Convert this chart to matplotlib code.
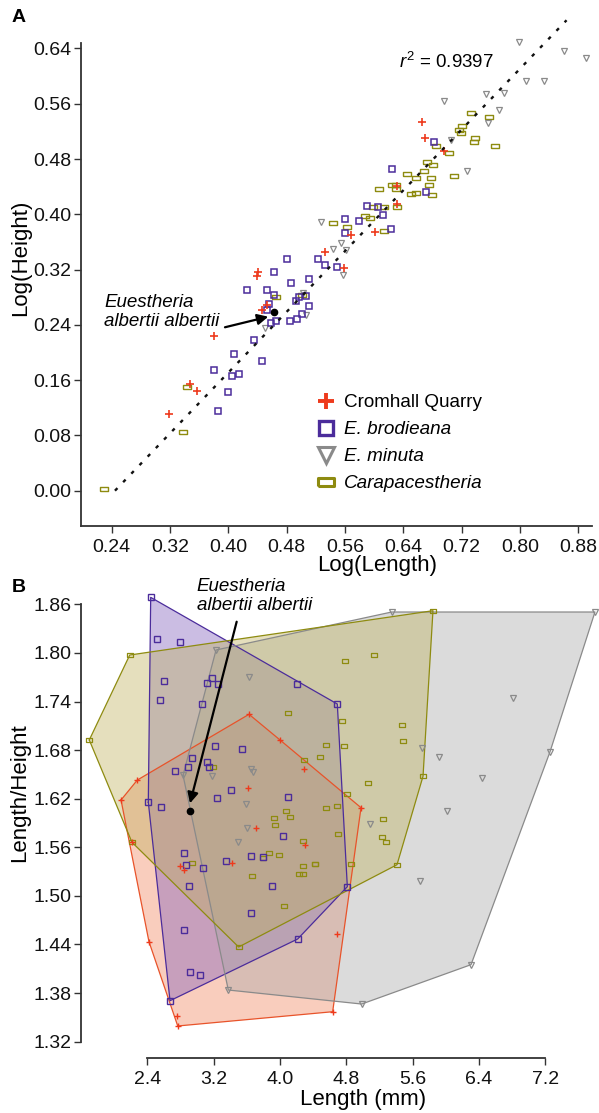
import numpy as np
import matplotlib
matplotlib.use("Agg")
import matplotlib.pyplot as plt
from matplotlib.lines import Line2D

plt.rcParams['font.family'] = ['Liberation Sans', 'DejaVu Sans']
plt.rcParams['mathtext.fontset'] = 'custom'
plt.rcParams['mathtext.rm'] = 'Liberation Sans'
plt.rcParams['mathtext.it'] = 'Liberation Sans:italic'

# ---------------- Panel A : Log(Length) vs Log(Height) ----------------
crom_logL = [0.666, 0.670, 0.696, 0.632, 0.631, 0.568, 0.601, 0.533, 0.559, 0.441,
             0.440, 0.446, 0.453, 0.381, 0.347, 0.357, 0.318]
crom_logH = [0.534, 0.510, 0.492, 0.441, 0.415, 0.370, 0.374, 0.346, 0.323, 0.316,
             0.310, 0.2615, 0.269, 0.224, 0.154, 0.144, 0.111]

brod_logL = [0.481, 0.462, 0.486, 0.426, 0.453, 0.462, 0.456, 0.453, 0.523, 0.533,
             0.549, 0.510, 0.493, 0.497, 0.507, 0.511, 0.501, 0.494, 0.485, 0.466,
             0.459, 0.560, 0.560, 0.612, 0.623, 0.590, 0.579, 0.625, 0.682, 0.671,
             0.606, 0.435, 0.408, 0.446, 0.381, 0.405, 0.414, 0.400, 0.386]
brod_logH = [0.335, 0.317, 0.301, 0.291, 0.290, 0.283, 0.270, 0.262, 0.336, 0.326,
             0.324, 0.307, 0.274, 0.280, 0.282, 0.267, 0.255, 0.248, 0.246, 0.246,
             0.242, 0.393, 0.3725, 0.3985, 0.378, 0.412, 0.391, 0.465, 0.504, 0.432,
             0.411, 0.218, 0.198, 0.188, 0.174, 0.1655, 0.169, 0.143, 0.116]

minu_logL = [0.799, 0.860, 0.891, 0.808, 0.833, 0.696, 0.754, 0.778, 0.772, 0.756,
             0.705, 0.727, 0.527, 0.543, 0.554, 0.562, 0.558, 0.502, 0.507, 0.450]
minu_logH = [0.650, 0.637, 0.626, 0.593, 0.593, 0.564, 0.574, 0.575, 0.551, 0.532,
             0.507, 0.462, 0.389, 0.350, 0.358, 0.348, 0.312, 0.286, 0.254, 0.236]

cara_logL = [0.229, 0.338, 0.343, 0.466, 0.501, 0.543, 0.563, 0.587, 0.594, 0.599,
             0.614, 0.613, 0.607, 0.624, 0.630, 0.630, 0.632, 0.733, 0.757, 0.721,
             0.716, 0.719, 0.738, 0.737, 0.766, 0.685, 0.703, 0.672, 0.681, 0.669,
             0.710, 0.645, 0.678, 0.657, 0.675, 0.651, 0.657, 0.679]
cara_logH = [0.0025, 0.0845, 0.150, 0.280, 0.283, 0.387, 0.381, 0.3975, 0.394, 0.410,
             0.411, 0.376, 0.436, 0.443, 0.443, 0.436, 0.411, 0.546, 0.541, 0.528,
             0.522, 0.518, 0.511, 0.504, 0.499, 0.499, 0.489, 0.475, 0.471, 0.463,
             0.456, 0.459, 0.453, 0.452, 0.442, 0.429, 0.431, 0.4275]

alb_logL, alb_logH = 0.463, 0.259
fit_slope, fit_intercept = 1.099, -0.2687
fit_x_range = [0.2445, 0.864]
r2 = 0.9397

# ---------------- Panel B : Length vs Length/Height ----------------
crom_len = [3.627, 4.001, 4.978, 4.636, 2.767, 2.755, 2.420, 2.219, 2.083, 2.279,
            4.290, 3.611, 3.715, 4.302, 3.418, 2.798, 2.843, 4.685]
crom_ratio = [1.7242, 1.6925, 1.6089, 1.357, 1.3394, 1.352, 1.4435, 1.566, 1.6184, 1.643,
              1.6567, 1.6328, 1.5838, 1.5625, 1.5406, 1.5369, 1.5316, 1.4526]

brod_len = [2.441, 4.692, 4.813, 4.214, 2.674, 2.412, 4.202, 2.521, 2.794, 2.605,
            2.553, 3.124, 3.184, 3.253, 3.060, 3.220, 3.546, 2.939, 2.731, 2.887,
            3.117, 3.148, 2.569, 4.101, 3.413, 3.244, 4.041, 2.843, 2.867, 3.072,
            3.346, 3.647, 3.799, 3.904, 2.899, 3.647, 2.839, 2.911, 3.036]
brod_ratio = [1.8686, 1.7369, 1.5114, 1.4468, 1.3706, 1.6156, 1.7616, 1.8168, 1.8138, 1.7657,
              1.7419, 1.7625, 1.7686, 1.7616, 1.7366, 1.6854, 1.6814, 1.6699, 1.6538, 1.6588,
              1.6653, 1.6595, 1.6099, 1.6215, 1.6306, 1.6207, 1.5740, 1.5526, 1.5385, 1.5348,
              1.5427, 1.5496, 1.5480, 1.5126, 1.5119, 1.4785, 1.4575, 1.4057, 1.4027]

minu_len = [7.800, 5.348, 3.229, 2.831, 3.377, 4.986, 6.305, 7.258, 6.815, 5.922,
            5.714, 6.441, 6.015, 5.083, 5.689, 3.627, 3.651, 3.671, 3.184, 3.587,
            3.599, 3.494]
minu_ratio = [1.8505, 1.8505, 1.8036, 1.6489, 1.3838, 1.3665, 1.4151, 1.678, 1.744, 1.6719,
              1.683, 1.6459, 1.6052, 1.5891, 1.5188, 1.7706, 1.6563, 1.6533, 1.648, 1.6138,
              1.5842, 1.5669]

cara_len = [5.846, 5.726, 5.412, 3.502, 2.215, 1.700, 2.188, 4.788, 5.138, 5.469,
            5.488, 4.749, 4.776, 4.552, 4.487, 4.290, 5.062, 4.805, 4.552, 4.685,
            5.247, 5.227, 5.283, 4.704, 4.275, 4.423, 4.275, 4.853, 4.275, 4.101,
            3.189, 4.069, 3.928, 4.121, 3.944, 3.872, 3.989, 3.799, 2.936, 3.663,
            4.427, 4.230, 4.053]
cara_ratio = [1.8521, 1.6477, 1.5385, 1.4369, 1.5662, 1.6925, 1.7974, 1.7896, 1.7974, 1.7114,
              1.6916, 1.7163, 1.6847, 1.6867, 1.6715, 1.6681, 1.6398, 1.6254, 1.6085, 1.6114,
              1.5946, 1.5727, 1.5669, 1.5764, 1.5681, 1.5398, 1.5369, 1.5398, 1.5267, 1.7262,
              1.6595, 1.6048, 1.5965, 1.5978, 1.5875, 1.5526, 1.5509, 1.5468, 1.5406, 1.5246,
              1.5398, 1.5267, 1.4875]

alb_len, alb_ratio = 2.915, 1.6048

# colours
RED, RED_EDGE, RED_FILL = '#ee3a1c', '#e8532a', '#f2825a'
PUR, PUR_FILL = '#4b2c9b', '#7d5cbb'
GRY, GRY_FILL = '#8a8a8a', '#a7a7a7'
OLV, OLV_FILL = '#8e8b10', '#beb15c'
AXC = '#333333'

RECT = [(-1, -0.45), (1, -0.45), (1, 0.45), (-1, 0.45), (-1, -0.45)]


def convex_hull(xs, ys):
    pts = sorted(set(zip(xs, ys)))

    def cross(o, a, b):
        return (a[0] - o[0]) * (b[1] - o[1]) - (a[1] - o[1]) * (b[0] - o[0])
    lower, upper = [], []
    for p in pts:
        while len(lower) >= 2 and cross(lower[-2], lower[-1], p) <= 0:
            lower.pop()
        lower.append(p)
    for p in reversed(pts):
        while len(upper) >= 2 and cross(upper[-2], upper[-1], p) <= 0:
            upper.pop()
        upper.append(p)
    h = lower[:-1] + upper[:-1]
    return [p[0] for p in h], [p[1] for p in h]


def style_axis(ax):
    for s in ['top', 'right']:
        ax.spines[s].set_visible(False)
    for s in ['left', 'bottom']:
        ax.spines[s].set_color(AXC)
        ax.spines[s].set_linewidth(1.3)
    ax.tick_params(direction='out', length=5, width=1.0, color=AXC,
                   labelsize=14, labelcolor='#111111')
    ax.tick_params(axis='y', pad=2)
    ax.tick_params(axis='x', pad=4)


W, H = 599, 1113
fig = plt.figure(figsize=(W / 100, H / 100), dpi=100)


def px_axes(left, top, right, bottom):
    return fig.add_axes([left / W, 1 - bottom / H, (right - left) / W, (bottom - top) / H])


# ---------- Panel A ----------
axA = px_axes(81, 43, 592, 526)
style_axis(axA)
axA.set_xlim(0.1979, 0.8989)
axA.set_ylim(-0.0511, 0.6479)
axA.set_xticks([0.24, 0.32, 0.40, 0.48, 0.56, 0.64, 0.72, 0.80, 0.88])
axA.set_yticks([0.00, 0.08, 0.16, 0.24, 0.32, 0.40, 0.48, 0.56, 0.64])
axA.xaxis.set_major_formatter(plt.FormatStrFormatter('%.2f'))
axA.yaxis.set_major_formatter(plt.FormatStrFormatter('%.2f'))

fx = np.array(fit_x_range)
axA.plot(fx, fit_slope * fx + fit_intercept, color='#111111', lw=1.7,
         dashes=(1.5, 3.5), clip_on=False, zorder=5)

axA.plot(cara_logL, cara_logH, ls='none', marker=RECT, ms=5.5, mfc='none',
         mec=OLV, mew=1.0, clip_on=False, zorder=3)
axA.plot(minu_logL, minu_logH, ls='none', marker='v', ms=5, mfc='none',
         mec=GRY, mew=0.9, clip_on=False, zorder=3)
axA.plot(brod_logL, brod_logH, ls='none', marker='s', ms=4.6, mfc='none',
         mec=PUR, mew=1.1, clip_on=False, zorder=3)
axA.plot(crom_logL, crom_logH, ls='none', marker='+', ms=5.5, color=RED,
         mew=1.2, clip_on=False, zorder=4)
axA.plot([alb_logL], [alb_logH], ls='none', marker='o', ms=4.5, color='black', zorder=6)

axA.annotate('', xy=(0.4548, 0.2518), xytext=(0.3954, 0.2365),
             arrowprops=dict(arrowstyle='-|>', color='black', lw=1.6,
                             mutation_scale=16, shrinkA=0, shrinkB=0), zorder=6)
axA.text(0.2294, 0.258, 'Euestheria\nalbertii albertii', fontsize=13.5,
         fontstyle='italic', ha='left', va='center', linespacing=1.15)
axA.text(0.634, 0.6204, r'$r^2$ = 0.9397', fontsize=13.5, ha='left', va='center')

handles = [
    Line2D([], [], ls='none', marker='+', color=RED, ms=12, mew=2.8),
    Line2D([], [], ls='none', marker='s', mfc='none', mec=PUR, ms=10.5, mew=2.4),
    Line2D([], [], ls='none', marker='v', mfc='none', mec=GRY, ms=11, mew=2.2),
    Line2D([], [], ls='none', marker=RECT, mfc='none', mec=OLV, ms=11.5, mew=2.2),
]
labels = ['Cromhall Quarry', 'E. brodieana', 'E. minuta', 'Carapacestheria']
leg = axA.legend(handles, labels, loc='upper left', bbox_to_anchor=(0.465, 0.273),
                 frameon=False, fontsize=13.6, handlelength=0.8, handletextpad=0.56,
                 borderpad=0, borderaxespad=0, labelspacing=0.52)
for t in leg.get_texts()[1:]:
    t.set_fontstyle('italic')

axA.set_xlabel('Log(Length)', fontsize=16)
axA.xaxis.set_label_coords(0.579, -0.060)
axA.set_ylabel('Log(Height)', fontsize=16)
axA.yaxis.set_label_coords(-0.098, 0.555)

fig.text(12 / W, 1 - 17 / H, 'A', fontsize=14, fontweight='bold', ha='left', va='center')

# ---------- Panel B ----------
axB = px_axes(81, 592, 597, 1058.3)
style_axis(axB)
axB.set_xlim(1.6002, 7.8246)
axB.set_ylim(1.2995, 1.8752)
axB.set_xticks([2.4, 3.2, 4.0, 4.8, 5.6, 6.4, 7.2])
axB.set_yticks([1.32, 1.38, 1.44, 1.50, 1.56, 1.62, 1.68, 1.74, 1.80, 1.86])
axB.xaxis.set_major_formatter(plt.FormatStrFormatter('%.1f'))
axB.yaxis.set_major_formatter(plt.FormatStrFormatter('%.2f'))
axB.spines['left'].set_bounds(1.32, 1.86)
axB.spines['bottom'].set_bounds(2.4, 7.2)

# fill order bottom -> top: Cromhall, brodieana, minuta, Carapacestheria
groups = [
    (crom_len, crom_ratio, RED_EDGE, RED_FILL),
    (brod_len, brod_ratio, PUR, PUR_FILL),
    (minu_len, minu_ratio, GRY, GRY_FILL),
    (cara_len, cara_ratio, OLV, OLV_FILL),
]
for i, (gx, gy, ec, fc) in enumerate(groups):
    hx, hy = convex_hull(gx, gy)
    axB.fill(hx, hy, facecolor=fc, alpha=0.4, edgecolor='none', zorder=1 + i * 0.1,
             clip_on=False)
for gx, gy, ec, fc in groups:
    hx, hy = convex_hull(gx, gy)
    axB.plot(hx + hx[:1], hy + hy[:1], color=ec, lw=0.9, zorder=2, clip_on=False)

axB.plot(minu_len, minu_ratio, ls='none', marker='v', ms=4.6, mfc='none',
         mec=GRY, mew=0.9, zorder=3, clip_on=False)
axB.plot(cara_len, cara_ratio, ls='none', marker=RECT, ms=5, mfc='none',
         mec=OLV, mew=0.9, zorder=3, clip_on=False)
axB.plot(brod_len, brod_ratio, ls='none', marker='s', ms=4.3, mfc='none',
         mec=PUR, mew=1.0, zorder=3, clip_on=False)
axB.plot(crom_len, crom_ratio, ls='none', marker='+', ms=5, color=RED,
         mew=1.0, zorder=4, clip_on=False)
axB.plot([alb_len], [alb_ratio], ls='none', marker='o', ms=4.5, color='black', zorder=6)

axB.annotate('', xy=(2.915, 1.6143), xytext=(3.478, 1.8385),
             arrowprops=dict(arrowstyle='-|>', color='black', lw=1.6,
                             mutation_scale=16, shrinkA=0, shrinkB=0), zorder=6)
axB.text(2.996, 1.8698, 'Euestheria\nalbertii albertii', fontsize=13.5,
         fontstyle='italic', ha='left', va='center', linespacing=1.15, zorder=7)

axB.set_xlabel('Length (mm)', fontsize=16)
axB.xaxis.set_label_coords(0.546, -0.066)
axB.set_ylabel('Length/Height', fontsize=16)
axB.yaxis.set_label_coords(-0.098, 0.569)

fig.text(12 / W, 1 - 587 / H, 'B', fontsize=14, fontweight='bold', ha='left', va='center')

fig.savefig('out.png', dpi=100)
